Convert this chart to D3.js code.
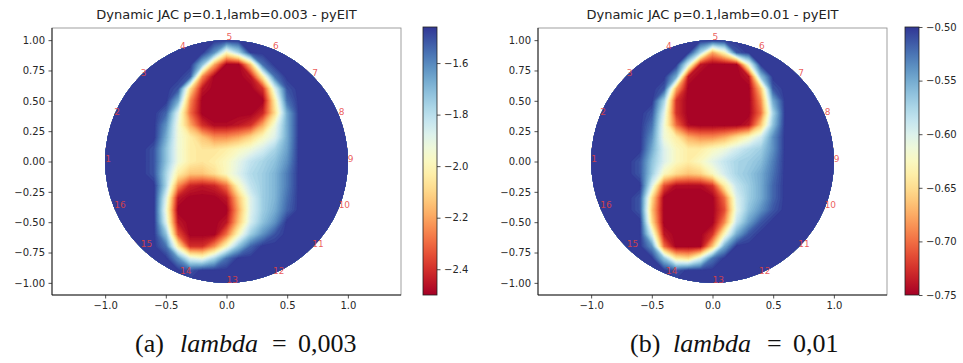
<!DOCTYPE html>
<html>
<head>
<meta charset="utf-8">
<script src="https://cdn.jsdelivr.net/npm/d3@7"></script>
<style>
  body { margin: 0; background: #fff; }
  svg { font-family: "DejaVu Sans", sans-serif; }
  .caption { font-family: "Liberation Serif", "DejaVu Serif", serif; }
</style>
</head>
<body>
<svg id="fig" width="963" height="363"></svg>
<script>
// grid node coordinates (x left->right, y top->bottom)
const gridX = [-1.0, -0.9, -0.8, -0.7, -0.6, -0.5, -0.4, -0.3, -0.2, -0.1, 0.0, 0.1, 0.2, 0.3, 0.4, 0.5, 0.6, 0.7, 0.8, 0.9, 1.0];
const gridY = [1.0, 0.9, 0.8, 0.7, 0.6, 0.5, 0.4, 0.3, 0.2, 0.1, 0.0, -0.1, -0.2, -0.3, -0.4, -0.5, -0.6, -0.7, -0.8, -0.9, -1.0];

const xTicks = [-1.0, -0.5, 0.0, 0.5, 1.0];
const yTicks = [-1.0, -0.75, -0.5, -0.25, 0.0, 0.25, 0.5, 0.75, 1.0];
const electrodeLabels = [1, 2, 3, 4, 5, 6, 7, 8, 9, 10, 11, 12, 13, 14, 15, 16];

const titles = ['Dynamic JAC p=0.1,lamb=0.003 - pyEIT', 'Dynamic JAC p=0.1,lamb=0.01 - pyEIT'];
const captionTags = ['(a)', '(b)'];
const captionValues = ['0,003', '0,01'];

const rangeA = [-2.5, -1.46];
const cbTicksA = [-2.4, -2.2, -2.0, -1.8, -1.6];
const rangeB = [-0.75, -0.50];
const cbTicksB = [-0.75, -0.70, -0.65, -0.60, -0.55, -0.50];

// reconstructed conductivity change, panel (a)
const gridA = [
  [-1.46,-1.46,-1.46,-1.46,-1.46,-1.46,-1.46,-1.46,-1.46,-1.46,-1.46,-1.46,-1.46,-1.46,-1.46,-1.46,-1.46,-1.46,-1.46,-1.46,-1.46],
  [-1.46,-1.46,-1.46,-1.46,-1.46,-1.46,-1.46,-1.46,-1.46,-1.62,-1.98,-1.77,-1.46,-1.46,-1.46,-1.46,-1.46,-1.46,-1.46,-1.46,-1.46],
  [-1.46,-1.46,-1.46,-1.46,-1.46,-1.46,-1.46,-1.46,-1.72,-2.19,-2.50,-2.50,-2.14,-1.56,-1.46,-1.46,-1.46,-1.46,-1.46,-1.46,-1.46],
  [-1.46,-1.46,-1.46,-1.46,-1.46,-1.46,-1.46,-1.52,-2.24,-2.50,-2.50,-2.50,-2.45,-2.03,-1.56,-1.46,-1.46,-1.46,-1.46,-1.46,-1.46],
  [-1.46,-1.46,-1.46,-1.46,-1.46,-1.46,-1.51,-2.08,-2.45,-2.50,-2.50,-2.50,-2.50,-2.40,-1.88,-1.51,-1.46,-1.46,-1.46,-1.46,-1.46],
  [-1.46,-1.46,-1.46,-1.46,-1.46,-1.46,-1.67,-2.24,-2.50,-2.50,-2.50,-2.50,-2.50,-2.50,-2.03,-1.56,-1.46,-1.46,-1.46,-1.46,-1.46],
  [-1.46,-1.46,-1.46,-1.46,-1.46,-1.54,-1.88,-2.29,-2.50,-2.50,-2.50,-2.50,-2.50,-2.42,-2.08,-1.67,-1.46,-1.46,-1.46,-1.46,-1.46],
  [-1.46,-1.46,-1.46,-1.46,-1.46,-1.62,-1.93,-2.19,-2.40,-2.48,-2.48,-2.45,-2.40,-2.19,-1.93,-1.67,-1.46,-1.46,-1.46,-1.46,-1.46],
  [-1.46,-1.46,-1.46,-1.46,-1.46,-1.67,-1.93,-2.03,-2.14,-2.24,-2.24,-2.19,-2.10,-1.98,-1.88,-1.67,-1.46,-1.46,-1.46,-1.46,-1.46],
  [-1.46,-1.46,-1.46,-1.46,-1.51,-1.72,-1.93,-2.03,-2.06,-2.06,-2.03,-1.98,-1.93,-1.86,-1.77,-1.65,-1.46,-1.46,-1.46,-1.46,-1.46],
  [-1.46,-1.46,-1.46,-1.46,-1.51,-1.72,-1.93,-2.03,-2.06,-2.03,-1.98,-1.90,-1.82,-1.77,-1.72,-1.62,-1.46,-1.46,-1.46,-1.46,-1.46],
  [-1.46,-1.46,-1.46,-1.46,-1.51,-1.77,-2.03,-2.14,-2.14,-2.08,-1.98,-1.88,-1.79,-1.75,-1.69,-1.58,-1.46,-1.46,-1.46,-1.46,-1.46],
  [-1.46,-1.46,-1.46,-1.46,-1.46,-1.77,-2.24,-2.42,-2.45,-2.42,-2.29,-1.98,-1.82,-1.75,-1.69,-1.58,-1.46,-1.46,-1.46,-1.46,-1.46],
  [-1.46,-1.46,-1.46,-1.46,-1.46,-1.88,-2.45,-2.50,-2.50,-2.50,-2.45,-2.14,-1.88,-1.75,-1.69,-1.56,-1.46,-1.46,-1.46,-1.46,-1.46],
  [-1.46,-1.46,-1.46,-1.46,-1.46,-1.93,-2.50,-2.50,-2.50,-2.50,-2.50,-2.19,-1.88,-1.75,-1.67,-1.54,-1.46,-1.46,-1.46,-1.46,-1.46],
  [-1.46,-1.46,-1.46,-1.46,-1.46,-1.88,-2.45,-2.50,-2.50,-2.50,-2.45,-2.14,-1.86,-1.72,-1.62,-1.46,-1.46,-1.46,-1.46,-1.46,-1.46],
  [-1.46,-1.46,-1.46,-1.46,-1.46,-1.72,-2.34,-2.50,-2.50,-2.50,-2.29,-1.98,-1.75,-1.62,-1.51,-1.46,-1.46,-1.46,-1.46,-1.46,-1.46],
  [-1.46,-1.46,-1.46,-1.46,-1.46,-1.56,-2.03,-2.40,-2.40,-2.24,-1.98,-1.72,-1.54,-1.46,-1.46,-1.46,-1.46,-1.46,-1.46,-1.46,-1.46],
  [-1.46,-1.46,-1.46,-1.46,-1.46,-1.46,-1.62,-1.88,-1.93,-1.77,-1.56,-1.46,-1.46,-1.46,-1.46,-1.46,-1.46,-1.46,-1.46,-1.46,-1.46],
  [-1.46,-1.46,-1.46,-1.46,-1.46,-1.46,-1.46,-1.51,-1.46,-1.46,-1.46,-1.46,-1.46,-1.46,-1.46,-1.46,-1.46,-1.46,-1.46,-1.46,-1.46],
  [-1.46,-1.46,-1.46,-1.46,-1.46,-1.46,-1.46,-1.46,-1.46,-1.46,-1.46,-1.46,-1.46,-1.46,-1.46,-1.46,-1.46,-1.46,-1.46,-1.46,-1.46]
];

// panel (b)
const gridB = [
  [-0.50,-0.50,-0.50,-0.50,-0.50,-0.50,-0.50,-0.50,-0.50,-0.50,-0.50,-0.50,-0.50,-0.50,-0.50,-0.50,-0.50,-0.50,-0.50,-0.50,-0.50],
  [-0.50,-0.50,-0.50,-0.50,-0.50,-0.50,-0.50,-0.50,-0.50,-0.575,-0.675,-0.625,-0.513,-0.50,-0.50,-0.50,-0.50,-0.50,-0.50,-0.50,-0.50],
  [-0.50,-0.50,-0.50,-0.50,-0.50,-0.50,-0.50,-0.50,-0.60,-0.738,-0.75,-0.75,-0.75,-0.613,-0.50,-0.50,-0.50,-0.50,-0.50,-0.50,-0.50],
  [-0.50,-0.50,-0.50,-0.50,-0.50,-0.50,-0.50,-0.55,-0.738,-0.75,-0.75,-0.75,-0.75,-0.738,-0.563,-0.50,-0.50,-0.50,-0.50,-0.50,-0.50],
  [-0.50,-0.50,-0.50,-0.50,-0.50,-0.50,-0.513,-0.675,-0.75,-0.75,-0.75,-0.75,-0.75,-0.75,-0.663,-0.513,-0.50,-0.50,-0.50,-0.50,-0.50],
  [-0.50,-0.50,-0.50,-0.50,-0.50,-0.50,-0.575,-0.725,-0.75,-0.75,-0.75,-0.75,-0.75,-0.75,-0.688,-0.55,-0.50,-0.50,-0.50,-0.50,-0.50],
  [-0.50,-0.50,-0.50,-0.50,-0.50,-0.513,-0.60,-0.725,-0.75,-0.75,-0.75,-0.75,-0.75,-0.75,-0.70,-0.575,-0.50,-0.50,-0.50,-0.50,-0.50],
  [-0.50,-0.50,-0.50,-0.50,-0.50,-0.525,-0.613,-0.70,-0.745,-0.75,-0.75,-0.75,-0.75,-0.738,-0.663,-0.563,-0.50,-0.50,-0.50,-0.50,-0.50],
  [-0.50,-0.50,-0.50,-0.50,-0.50,-0.538,-0.613,-0.638,-0.675,-0.688,-0.688,-0.675,-0.65,-0.625,-0.595,-0.538,-0.50,-0.50,-0.50,-0.50,-0.50],
  [-0.50,-0.50,-0.50,-0.50,-0.50,-0.55,-0.60,-0.625,-0.638,-0.638,-0.625,-0.613,-0.595,-0.58,-0.57,-0.538,-0.50,-0.50,-0.50,-0.50,-0.50],
  [-0.50,-0.50,-0.50,-0.50,-0.513,-0.563,-0.60,-0.625,-0.638,-0.625,-0.605,-0.588,-0.575,-0.57,-0.56,-0.53,-0.50,-0.50,-0.50,-0.50,-0.50],
  [-0.50,-0.50,-0.50,-0.50,-0.513,-0.57,-0.625,-0.65,-0.663,-0.655,-0.625,-0.595,-0.575,-0.565,-0.55,-0.525,-0.50,-0.50,-0.50,-0.50,-0.50],
  [-0.50,-0.50,-0.50,-0.50,-0.50,-0.60,-0.713,-0.745,-0.745,-0.745,-0.725,-0.638,-0.588,-0.57,-0.55,-0.52,-0.50,-0.50,-0.50,-0.50,-0.50],
  [-0.50,-0.50,-0.50,-0.50,-0.513,-0.65,-0.75,-0.75,-0.75,-0.75,-0.75,-0.70,-0.60,-0.57,-0.55,-0.52,-0.50,-0.50,-0.50,-0.50,-0.50],
  [-0.50,-0.50,-0.50,-0.50,-0.513,-0.663,-0.75,-0.75,-0.75,-0.75,-0.75,-0.713,-0.605,-0.563,-0.538,-0.513,-0.50,-0.50,-0.50,-0.50,-0.50],
  [-0.50,-0.50,-0.50,-0.50,-0.50,-0.65,-0.75,-0.75,-0.75,-0.75,-0.75,-0.688,-0.588,-0.545,-0.513,-0.50,-0.50,-0.50,-0.50,-0.50,-0.50],
  [-0.50,-0.50,-0.50,-0.50,-0.50,-0.60,-0.738,-0.75,-0.75,-0.75,-0.725,-0.625,-0.55,-0.513,-0.50,-0.50,-0.50,-0.50,-0.50,-0.50,-0.50],
  [-0.50,-0.50,-0.50,-0.50,-0.50,-0.538,-0.70,-0.75,-0.75,-0.75,-0.663,-0.55,-0.50,-0.50,-0.50,-0.50,-0.50,-0.50,-0.50,-0.50,-0.50],
  [-0.50,-0.50,-0.50,-0.50,-0.50,-0.50,-0.563,-0.638,-0.65,-0.60,-0.525,-0.50,-0.50,-0.50,-0.50,-0.50,-0.50,-0.50,-0.50,-0.50,-0.50],
  [-0.50,-0.50,-0.50,-0.50,-0.50,-0.50,-0.50,-0.513,-0.50,-0.50,-0.50,-0.50,-0.50,-0.50,-0.50,-0.50,-0.50,-0.50,-0.50,-0.50,-0.50],
  [-0.50,-0.50,-0.50,-0.50,-0.50,-0.50,-0.50,-0.50,-0.50,-0.50,-0.50,-0.50,-0.50,-0.50,-0.50,-0.50,-0.50,-0.50,-0.50,-0.50,-0.50]
];

const panels = [
  { grid: gridA, range: rangeA, cbTicks: cbTicksA, cbFmt: '.1f', left: 52, cbLeft: 423, capX: [135, 180, 272, 298] },
  { grid: gridB, range: rangeB, cbTicks: cbTicksB, cbFmt: '.2f', left: 538, cbLeft: 905, capX: [630, 673, 767, 793] }
];

const svg = d3.select('#fig');
const plotTop = 28, plotBottom = 295, plotW = 349;
const tickColor = '#262626';

panels.forEach((p, i) => {
  const y = d3.scaleLinear([-1.1, 1.1], [plotBottom, plotTop]);
  const k = (plotBottom - plotTop) / 2.2;
  const half = plotW / 2 / k;
  const x = d3.scaleLinear([-half, half], [p.left, p.left + plotW]);
  const color = d3.scaleSequential(d3.interpolateRdYlBu).domain(p.range);

  // disc clip
  svg.append('clipPath').attr('id', 'disc' + i)
    .append('circle').attr('cx', x(0)).attr('cy', y(0)).attr('r', x(1) - x(0));

  const field = svg.append('g').attr('clip-path', `url(#disc${i})`);
  field.append('circle')
    .attr('cx', x(0)).attr('cy', y(0)).attr('r', x(1) - x(0))
    .attr('fill', color(p.range[1]));

  const nx = gridX.length, ny = gridY.length;
  const span = p.range[1] - p.range[0];
  const nLev = 64;
  const thr = d3.range(nLev).map(j => p.range[0] + span * j / nLev);
  const contours = d3.contours().size([nx, ny]).thresholds(thr)(p.grid.flat());
  const step = gridX[1] - gridX[0];
  field.append('g')
    .attr('transform', `translate(${x(gridX[0] - step / 2)},${y(gridY[0] + step / 2)}) scale(${x(step) - x(0)},${y(0) - y(step)})`)
    .selectAll('path').data(contours).join('path')
    .attr('d', d3.geoPath())
    .attr('fill', d => color(d.value + span / nLev / 2))
    .attr('stroke', d => color(d.value + span / nLev / 2))
    .attr('stroke-width', 0.02);

  // electrode labels
  svg.append('g').selectAll('text').data(electrodeLabels).join('text')
    .attr('x', d => x(Math.cos(Math.PI - (d - 1) * Math.PI / 8)))
    .attr('y', d => y(Math.sin(Math.PI - (d - 1) * Math.PI / 8)))
    .attr('font-size', 9)
    .attr('fill', '#e8413c')
    .attr('fill-opacity', 0.85)
    .text(d => d);

  // frame
  svg.append('rect')
    .attr('x', p.left).attr('y', plotTop).attr('width', plotW).attr('height', plotBottom - plotTop)
    .attr('fill', 'none').attr('stroke', '#888').attr('stroke-width', 0.8);
  svg.append('path')
    .attr('d', `M${p.left},${plotTop}V${plotBottom}H${p.left + plotW}`)
    .attr('fill', 'none').attr('stroke', '#111').attr('stroke-width', 0.9);

  // axes
  const xAxis = svg.append('g').attr('transform', `translate(0,${plotBottom})`)
    .call(d3.axisBottom(x).tickValues(xTicks).tickFormat(d3.format('.1f')).tickSize(3.5).tickPadding(3.5));
  const yAxis = svg.append('g').attr('transform', `translate(${p.left},0)`)
    .call(d3.axisLeft(y).tickValues(yTicks).tickFormat(d3.format('.2f')).tickSize(3.5).tickPadding(3.5));
  [xAxis, yAxis].forEach(a => {
    a.attr('font-family', null);
    a.select('.domain').remove();
    a.selectAll('line').attr('stroke', tickColor).attr('stroke-width', 0.8);
    a.selectAll('text').attr('font-size', 10).attr('fill', tickColor);
  });

  // title
  svg.append('text')
    .attr('x', x(0)).attr('y', 19)
    .attr('text-anchor', 'middle')
    .attr('font-size', 13).attr('fill', '#222')
    .text(titles[i]);

  // colorbar
  const cbW = 14, cbTop = 27, cbBottom = 295;
  const cb = d3.scaleLinear(p.range, [cbBottom, cbTop]);
  const grad = svg.append('defs').append('linearGradient')
    .attr('id', 'cbgrad' + i).attr('x1', 0).attr('y1', 1).attr('x2', 0).attr('y2', 0);
  grad.selectAll('stop').data(d3.range(0, 1.0001, 0.05)).join('stop')
    .attr('offset', d => d)
    .attr('stop-color', d => color(p.range[0] + span * d));
  svg.append('rect')
    .attr('x', p.cbLeft).attr('y', cbTop).attr('width', cbW).attr('height', cbBottom - cbTop)
    .attr('fill', `url(#cbgrad${i})`).attr('stroke', '#222').attr('stroke-width', 0.8);
  const cAxis = svg.append('g').attr('transform', `translate(${p.cbLeft + cbW},0)`)
    .call(d3.axisRight(cb).tickValues(p.cbTicks).tickFormat(d3.format(p.cbFmt)).tickSize(3.5).tickPadding(3.5));
  cAxis.attr('font-family', null);
  cAxis.select('.domain').remove();
  cAxis.selectAll('line').attr('stroke', tickColor).attr('stroke-width', 0.8);
  cAxis.selectAll('text').attr('font-size', 10).attr('fill', tickColor);

  // caption
  const capY = 352;
  const cap = svg.append('g').attr('class', 'caption').attr('font-size', 26).attr('fill', '#111');
  cap.append('text').attr('x', p.capX[0]).attr('y', capY).text(captionTags[i]);
  cap.append('text').attr('x', p.capX[1]).attr('y', capY).attr('font-style', 'italic').text('lambda');
  cap.append('text').attr('x', p.capX[2]).attr('y', capY).text('=');
  cap.append('text').attr('x', p.capX[3]).attr('y', capY).text(captionValues[i]);
});
</script>
</body>
</html>
